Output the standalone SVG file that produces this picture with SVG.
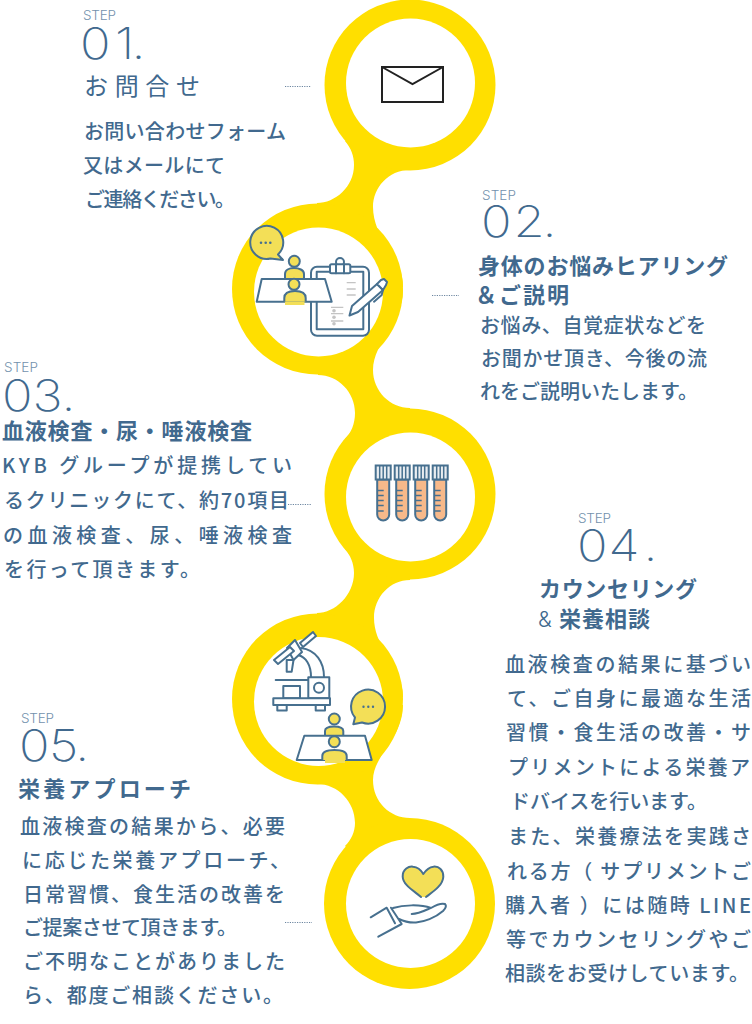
<svg xmlns="http://www.w3.org/2000/svg" xmlns:xlink="http://www.w3.org/1999/xlink" width="752" height="1024" viewBox="0 0 752 1024">
<style>
text{font-family:"Noto Sans CJK JP","Noto Sans",sans-serif;fill:#41698e}
.s{font-family:Inter,"Liberation Sans",sans-serif;font-size:13.500px;font-weight:300;fill:#7391ad}
.n{font-family:Inter,"Liberation Sans",sans-serif;font-size:44px;font-weight:200}
.h{font-size:22px;font-weight:600}
.b{font-size:20px;font-weight:500}
.y{fill:#ffdf00}
.w{fill:#fff}
.i{fill:none;stroke:#47708f;stroke-width:2;stroke-linecap:round;stroke-linejoin:round}
.iw{fill:#fff;stroke:#47708f;stroke-width:2;stroke-linejoin:round}
.ip{fill:#f3df57;stroke:#47708f;stroke-width:2;stroke-linejoin:round}
.g{fill:none;stroke:#c4c4c4;stroke-width:1.3}
.d{fill:none;stroke:#6c86a0;stroke-width:1;stroke-dasharray:1.2 1.2}
</style>
<defs>
<g id="tube">
<path d="M1.500,14V49a6,6 0 0 0 12,0V14Z" fill="#f7b98a" stroke="#47708f" stroke-width="2"/>
<rect x="0" y="0" width="15" height="14" fill="#e9edf1" stroke="#47708f" stroke-width="2"/>
<path d="M4,0V14M7.500,0V14M11,0V14M2,25H8M2,30H8M2,35H8M2,40H8M2,45.500H8" fill="none" stroke="#47708f" stroke-width="1.500"/>
</g>
</defs>
<g id="connectors">
<path class="y" d="M345,141C351,148 354,156 354,165C354,187 335,203 317,203L318,289L403,287C403,270 395,258 387,247C380,236 373,222 373,207C373,188 388,170 410,170L410,84Z"/>
<path class="y" d="M403,290C403,306 395,320 388,332C381,343 373,356 373,370C373,391 390,408 410,408L410,494L345,439C351,433 355,424 355,413C355,392 338,375 318,375L318,289Z"/>
<path class="y" d="M345,549C350,555 354,563 354,573C354,595 335,613 317,613L318,699L403,697C403,680 393,665 385,652C379,642 374,630 374,618C374,597 390,580 410,580L410,494Z"/>
<path class="y" d="M403,705C403,722 395,735 387,747C380,758 373,768 373,780C373,802 390,818 410,818L410,903L345,846C351,840 355,832 355,823C355,802 338,784 317,784L318,699Z"/>
<path class="d" d="M285,86.500H311M432,295.500H459M288,504.500H312M285,922.500H312"/>
</g>
<g id="step1">
<circle class="y" cx="410" cy="85" r="85.500"/><circle class="w" cx="410.500" cy="83" r="64.500"/>
<rect x="382" y="67" width="61" height="35" fill="#fff" stroke="#222" stroke-width="2"/>
<path d="M382,67L412.500,84L443,67" fill="none" stroke="#222" stroke-width="2"/>
<text class="s" x="83" y="20" textLength="33">STEP</text>
<text class="n" transform="translate(80 59) scale(1.15 1)" x="0 30.400 44.800" y="0">01.</text>
<text x="84" y="95" font-size="24" textLength="116">お問合せ</text>
<text class="b" x="84" y="139" textLength="202">お問い合わせフォーム</text>
<text class="b" x="83" y="173" textLength="142">又はメールにて</text>
<text class="b" x="85" y="207" textLength="150">ご連絡ください。</text>
</g>
<g id="step2">
<circle class="y" cx="317.500" cy="289" r="85.500"/><circle class="w" cx="318.500" cy="292" r="64.500"/>
<path class="ip" d="M278,254.500A16.500,16.500 0 1 0 270.500,258.500L283,260Z"/>
<path d="M261,242.700h.01M265.700,242.700h.01M270.300,242.700h.01" stroke="#47708f" stroke-width="2.600" stroke-linecap="round" fill="none"/>
<circle class="ip" cx="294.300" cy="261.300" r="5.500"/>
<path class="ip" d="M285,279V274C285,270 289,268 294,268C299,268 304,270 304,274V279Z"/>
<rect x="311" y="266.700" width="58" height="69" rx="6" class="iw"/>
<rect x="316.700" y="271.700" width="46.600" height="57.600" class="iw"/>
<circle cx="340" cy="262" r="4" class="iw"/>
<rect x="330" y="264.300" width="20.300" height="9" rx="1.500" class="iw"/>
<path d="M336,264.300V273.300M344,264.300V273.300" class="i"/>
<path class="g" d="M346.700,282.700H355.700M346.700,289H355.700M346.700,295H355.700M331,307.300H343.300M331,313.700H343.300M331,321H343.300"/>
<circle cx="334" cy="310.700" r="1.800" fill="#c4c4c4"/><circle cx="334" cy="317.300" r="1.800" fill="#c4c4c4"/><circle cx="334" cy="323.700" r="1.800" fill="#c4c4c4"/>
<path class="iw" d="M349.500,315.500L352,306L377,284L383,290L358,312Z"/>
<path class="iw" d="M377,284L381,280L384,279L387,282L386,285L383,290Z"/>
<path class="i" d="M374,301.700L381.700,295M381.700,295L383,290"/>
<path class="iw" d="M261.700,279H325L331.700,301.700H256.700Z"/>
<path d="M285,302H304.500V305H285Z" fill="#f3df57"/>
<path class="ip" d="M284.300,301.700V298C284.300,293 288,291 295,291C302,291 305.700,293 305.700,298V301.700"/>
<circle class="ip" cx="294" cy="284.300" r="5.500"/>
<text class="s" x="482" y="200" textLength="34">STEP</text>
<text class="n" transform="translate(481 237) scale(1.15 1)" x="0 28.300 53.500" y="0">02.</text>
<text class="h" x="478" y="274" textLength="250">身体のお悩みヒアリング</text>
<text class="h" x="475" y="303" textLength="94">＆ご説明</text>
<text class="b" x="480" y="333" textLength="226">お悩み、自覚症状などを</text>
<text class="b" x="481" y="366" textLength="226">お聞かせ頂き、今後の流</text>
<text class="b" x="480" y="399" textLength="218">れをご説明いたします。</text>
</g>
<g id="step3">
<circle class="y" cx="410" cy="494" r="85.500"/><circle class="w" cx="410.500" cy="497" r="64.500"/>
<use xlink:href="#tube" href="#tube" x="375.700" y="465.500"/>
<use xlink:href="#tube" href="#tube" x="394.700" y="465.500"/>
<use xlink:href="#tube" href="#tube" x="413.700" y="465.500"/>
<use xlink:href="#tube" href="#tube" x="432.700" y="465.500"/>
<text class="s" x="4" y="372" textLength="34">STEP</text>
<text class="n" transform="translate(2 411) scale(1.15 1)" x="0 26.500 51.700" y="0">03.</text>
<text class="h" x="2" y="439" textLength="250">血液検査・尿・唾液検査</text>
<text class="b" x="2" y="473" textLength="290">KYB グループが提携してい</text>
<text class="b" x="4" y="508" textLength="285">るクリニックにて、約70項目</text>
<text class="b" x="3" y="543" textLength="289">の血液検査、尿、唾液検査</text>
<text class="b" x="4" y="577" textLength="196">を行って頂きます。</text>
</g>
<g id="step4">
<circle class="y" cx="317.500" cy="699" r="85.500"/><circle class="w" cx="318.500" cy="701.500" r="64.500"/>
<path class="i" d="M301,648C316,650 324,662 324,677M298,655C306,657 311,665 311,677M275.700,680H308.300"/>
<rect x="308.300" y="677.300" width="21" height="21" class="iw"/>
<circle cx="319" cy="687.700" r="5" class="iw"/>
<rect x="283.300" y="686" width="16.700" height="12.300" class="iw"/>
<rect x="277.300" y="705" width="9.400" height="5.500" class="iw"/>
<rect x="315.700" y="705" width="9.300" height="5.500" class="iw"/>
<rect x="273.300" y="698.300" width="56.700" height="6.700" class="iw"/>
<path class="iw" d="M286.700,660V671.700H291.700L293.500,660Z"/>
<path class="iw" d="M300,643L313,632L316,636L303,647Z"/>
<path class="iw" d="M287,648L295,640L302,652L293.500,660Z"/>
<path class="iw" d="M274,660L290,647L294,651L278,664Z"/>
<path class="ip" d="M355,717.500A17,17 0 1 1 362,722.500L353.300,724.300Z"/>
<path d="M363.500,706.700h.01M368.300,706.700h.01M373,706.700h.01" stroke="#47708f" stroke-width="2.400" stroke-linecap="round" fill="none"/>
<circle class="ip" cx="334.300" cy="719" r="5.500"/>
<path class="ip" d="M325,736V731C325,728 329,726.500 334,726.500C339,726.500 343.300,728 343.300,731V736Z"/>
<path class="iw" d="M304.300,735.700H365L371.700,760H296.700Z"/>
<path d="M325,760H345V763H325Z" fill="#f3df57"/>
<path class="ip" d="M322.300,760V756C322.300,752 327,750 334.500,750C342,750 346.700,752 346.700,756V760"/>
<circle class="ip" cx="334.300" cy="741.700" r="5.500"/>
<text class="s" x="578" y="523" textLength="33">STEP</text>
<text class="n" transform="translate(577 561) scale(1.15 1)" x="0 27.400 57.800" y="0">04.</text>
<text class="h" x="539" y="597" textLength="158">カウンセリング</text>
<text class="h" x="538" y="627" style="font-family:Inter,sans-serif;font-weight:300">&amp;</text>
<text class="h" x="559" y="627" textLength="91">栄養相談</text>
<text class="b" x="505" y="672" textLength="246">血液検査の結果に基づい</text>
<text class="b" x="507" y="706" textLength="244">て、ご自身に最適な生活</text>
<text class="b" x="506" y="740" textLength="245">習慣・食生活の改善・サ</text>
<text class="b" x="508" y="775" textLength="242">プリメントによる栄養ア</text>
<text class="b" x="510" y="809" textLength="197">ドバイスを行います。</text>
<text class="b" x="508" y="844" textLength="243">また、栄養療法を実践さ</text>
<text class="b" x="507" y="879" textLength="244">れる方（ サプリメントご</text>
<text class="b" x="505" y="913" textLength="246">購入者 ）には随時 LINE</text>
<text class="b" x="506" y="947" textLength="245">等でカウンセリングやご</text>
<text class="b" x="505" y="981" textLength="244">相談をお受けしています。</text>
</g>
<g id="step5">
<circle class="y" cx="409.500" cy="903.500" r="85.500"/><circle class="w" cx="410.500" cy="903.500" r="64.500"/>
<path class="ip" d="M421,897C414,891 403,885 402.700,876.700C402.500,869 409,866 413,866.700C418,867 421,870 423.300,874C426,870 429,867 433.300,866.700C439,866 443.500,870 443.300,876.700C443,885 434,891 426,897" stroke-linecap="round"/>
<path class="i" d="M370.700,917.300L386.700,907.700L395,923.300M391,907.700L401.700,924L378.300,936.700M393,908C403,905 420,904 431,908C436,905 442,903 445,904C447,906 445,909 443,911C435,918 424,922 416,922.500C408,923 403,921 399,919M411.700,914C418,914 424,911 430,908.300"/>
<text class="s" x="21" y="723" textLength="33">STEP</text>
<text class="n" transform="translate(19 761) scale(1.15 1)" x="0 26 49" y="0">05.</text>
<text class="h" x="18" y="797" textLength="173">栄養アプローチ</text>
<text class="b" x="20" y="834" textLength="265">血液検査の結果から、必要</text>
<text class="b" x="22" y="868" textLength="268">に応じた栄養アプローチ、</text>
<text class="b" x="23" y="902" textLength="262">日常習慣、食生活の改善を</text>
<text class="b" x="23" y="935" textLength="214">ご提案させて頂きます。</text>
<text class="b" x="23" y="969" textLength="262">ご不明なことがありました</text>
<text class="b" x="23" y="1003" textLength="260">ら、都度ご相談ください。</text>
</g>
</svg>
